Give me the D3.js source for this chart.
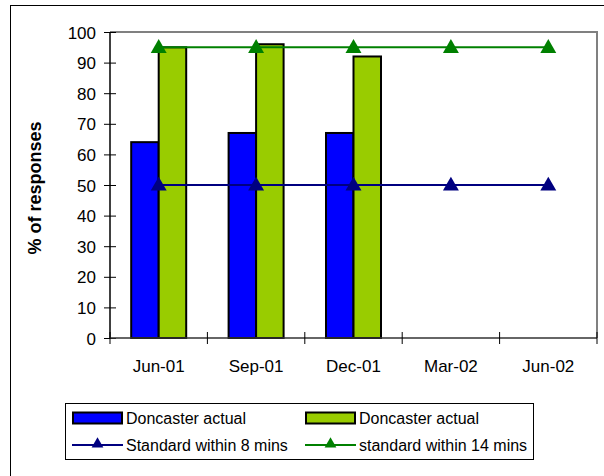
<!DOCTYPE html>
<html>
<head>
<meta charset="utf-8">
<script src="https://cdn.jsdelivr.net/npm/d3@7"></script>
<style>
  html, body { margin: 0; padding: 0; background: #fff; }
  svg { display: block; font-family: "Liberation Sans", Arial, sans-serif; }
</style>
</head>
<body>
<svg id="chart" width="604" height="476"></svg>
<script>
// Quarterly response performance
const categories = ["Jun-01", "Sep-01", "Dec-01", "Mar-02", "Jun-02"];
const actual8 = [64, 67, 67, null, null];
const actual14 = [95, 96, 92, null, null];
const standard8 = [50, 50, 50, 50, 50];
const standard14 = [95, 95, 95, 95, 95];
const yTicks = [0, 10, 20, 30, 40, 50, 60, 70, 80, 90, 100];

const barSeries = [
  { name: "Doncaster actual", values: actual8, color: "#0000ff" },
  { name: "Doncaster actual", values: actual14, color: "#99cc00" }
];
const lineSeries = [
  { name: "Standard within 8 mins", values: standard8, color: "#000080" },
  { name: "standard within 14 mins", values: standard14, color: "#008000" }
];

const svg = d3.select("#chart");
const plot = { left: 110, right: 597, top: 32, bottom: 338 };
const axisFont = 17;
const legendFont = 16;
const titleFont = 18;

// Outer chart frame
svg.append("rect")
  .attr("x", 10.5).attr("y", 5.5)
  .attr("width", 620).attr("height", 500)
  .attr("fill", "#fff").attr("stroke", "#000").attr("stroke-width", 1);

const x = d3.scaleBand().domain(categories).range([plot.left, plot.right]).padding(0);
const y = d3.scaleLinear().domain([0, 100]).range([plot.bottom, plot.top]);
const groupWidth = 55;
const xs = d3.scaleBand().domain(d3.range(barSeries.length)).range([-groupWidth / 2, groupWidth / 2]);
const cx = c => x(c) + x.bandwidth() / 2;

// Plot area border (top and right)
svg.append("path")
  .attr("d", `M${plot.left},${plot.top}H${plot.right}V${plot.bottom}`)
  .attr("fill", "none").attr("stroke", "#808080").attr("stroke-width", 2);

// Bars
barSeries.forEach((s, i) => {
  svg.append("g").selectAll("rect")
    .data(categories.map((c, j) => ({ c, v: s.values[j] })).filter(d => d.v != null))
    .join("rect")
    .attr("x", d => cx(d.c) + xs(i))
    .attr("y", d => y(d.v))
    .attr("width", xs.bandwidth())
    .attr("height", d => y(0) - y(d.v))
    .attr("fill", s.color)
    .attr("stroke", "#000").attr("stroke-width", 2);
});

// Axes
const yAxis = svg.append("g")
  .attr("transform", `translate(${plot.left},0)`)
  .call(d3.axisLeft(y).tickValues(yTicks).tickSize(6).tickPadding(8));
yAxis.select(".domain").attr("stroke", "#000").attr("stroke-width", 1.5).attr("d", `M0,${plot.top}V${plot.bottom}`);
yAxis.selectAll(".tick line").attr("x1", 6).attr("x2", -6).attr("stroke", "#000");
yAxis.selectAll(".tick text")
  .attr("x", -14).attr("dy", "0.36em")
  .attr("font-size", axisFont).attr("font-family", "Liberation Sans, Arial, sans-serif").attr("fill", "#000");

const xAxis = svg.append("g")
  .attr("transform", `translate(0,${plot.bottom})`)
  .call(d3.axisBottom(x).tickSize(0).tickPadding(22));
xAxis.select(".domain").attr("stroke", "#333").attr("stroke-width", 1.5).attr("d", `M${plot.left},0H${plot.right}`);
xAxis.selectAll(".tick text")
  .attr("font-size", axisFont).attr("font-family", "Liberation Sans, Arial, sans-serif").attr("fill", "#000");
// Category boundary ticks crossing the axis
xAxis.append("g").selectAll("line")
  .data(categories.concat([null]))
  .join("line")
  .attr("x1", (d, i) => i < categories.length ? x(d) : plot.right)
  .attr("x2", (d, i) => i < categories.length ? x(d) : plot.right)
  .attr("y1", -6).attr("y2", 6)
  .attr("stroke", "#000");

// Standard lines with triangle markers
const tri = d3.symbol().type(d3.symbolTriangle);
lineSeries.forEach(s => {
  const pts = categories.map((c, j) => ({ c, v: s.values[j] }));
  svg.append("path")
    .datum(pts)
    .attr("d", d3.line().x(d => cx(d.c)).y(d => y(d.v)))
    .attr("fill", "none").attr("stroke", s.color).attr("stroke-width", 2);
  svg.append("g").selectAll("path")
    .data(pts)
    .join("path")
    .attr("transform", d => `translate(${cx(d.c)},${y(d.v) + 1})`)
    .attr("d", tri.size(110))
    .attr("fill", s.color);
});

// Y axis title
svg.append("text")
  .attr("transform", `translate(41,${(plot.top + plot.bottom) / 2 + 3}) rotate(-90)`)
  .attr("text-anchor", "middle")
  .attr("font-size", titleFont).attr("font-weight", "bold")
  .text("% of responses");

// Legend
const legend = svg.append("g");
legend.append("rect")
  .attr("x", 65.5).attr("y", 403.5).attr("width", 468).attr("height", 56)
  .attr("fill", "#fff").attr("stroke", "#000").attr("stroke-width", 1);

const cols = [72, 305];
const rows = [418, 445];
barSeries.forEach((s, i) => {
  const g = legend.append("g").attr("transform", `translate(${cols[i]},${rows[0]})`);
  g.append("rect").attr("x", 1).attr("y", -5.5).attr("width", 49).attr("height", 11)
    .attr("fill", s.color).attr("stroke", "#000").attr("stroke-width", 2);
  g.append("text").attr("x", 54).attr("y", 5.5).attr("font-size", legendFont).text(s.name);
});
lineSeries.forEach((s, i) => {
  const g = legend.append("g").attr("transform", `translate(${cols[i]},${rows[1]})`);
  g.append("line").attr("x1", 0).attr("x2", 51).attr("y1", 0).attr("y2", 0)
    .attr("stroke", s.color).attr("stroke-width", 2);
  g.append("path").attr("transform", "translate(25.5,-1)").attr("d", tri.size(60)).attr("fill", s.color);
  g.append("text").attr("x", 54).attr("y", 5.5).attr("font-size", legendFont).text(s.name);
});
</script>
</body>
</html>
